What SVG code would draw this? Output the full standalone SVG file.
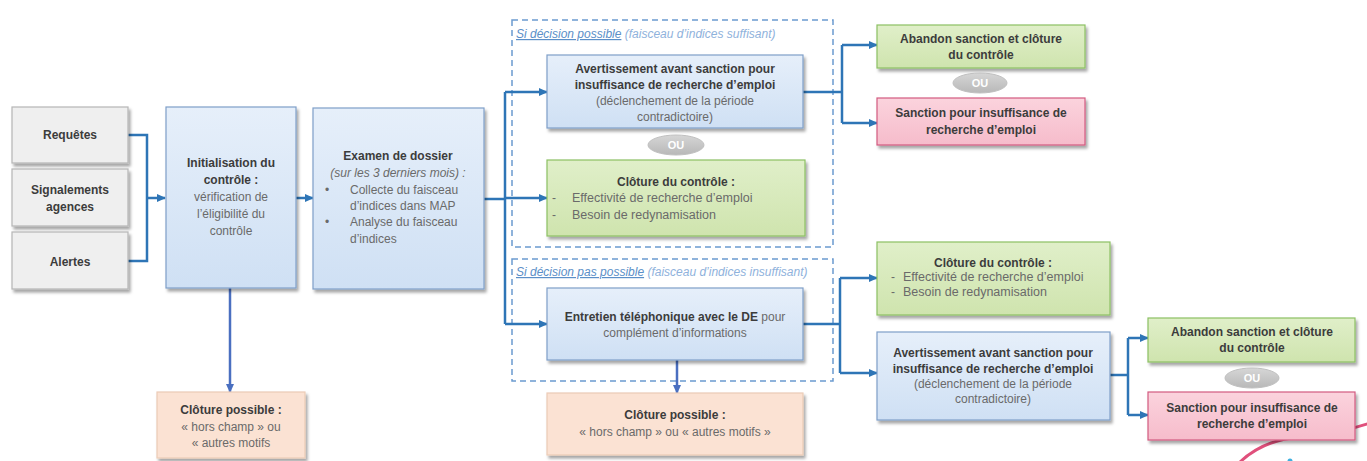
<svg xmlns="http://www.w3.org/2000/svg" width="1367" height="461" viewBox="0 0 1367 461">
<style>
text{font-family:"Liberation Sans",Arial,sans-serif;font-size:12px;fill:#6a6a6a}
.b{font-weight:bold;fill:#3c3c3c}
.c{text-anchor:middle}
.it{font-style:italic}
.w{font-size:12.5px}
.gray{fill:#efefef;stroke:#b5b5b5;stroke-width:1.2}
.blue{fill:url(#gb);stroke:#7f9fc8;stroke-width:1.2}
.green{fill:url(#gg);stroke:#8cc063;stroke-width:1.2}
.pink{fill:url(#gp);stroke:#d25a80;stroke-width:1.2}
.peach{fill:#fbe2d3;stroke:#eccbb6;stroke-width:1.2}
.conn{fill:none;stroke:#2e75b6;stroke-width:2.5}
.dash{fill:none;stroke:#6b9bcf;stroke-width:1.5;stroke-dasharray:6 4}
.ou{fill:url(#go);stroke:#c0c0c0}
.out{fill:#fff;font-weight:bold;font-size:11px;text-anchor:middle}
</style>
<defs>
<linearGradient id="gb" x1="0" y1="0" x2="0" y2="1"><stop offset="0" stop-color="#e6effa"/><stop offset="1" stop-color="#cfe0f4"/></linearGradient>
<linearGradient id="gg" x1="0" y1="0" x2="0" y2="1"><stop offset="0" stop-color="#e0efc9"/><stop offset="1" stop-color="#cfe4ae"/></linearGradient>
<linearGradient id="gp" x1="0" y1="0" x2="0" y2="1"><stop offset="0" stop-color="#fbd3dd"/><stop offset="1" stop-color="#f6bccb"/></linearGradient>
<linearGradient id="go" x1="0" y1="0" x2="0" y2="1"><stop offset="0" stop-color="#d6d6d6"/><stop offset="1" stop-color="#b8b8b8"/></linearGradient>
<filter id="sh" x="-10%" y="-10%" width="125%" height="130%"><feDropShadow dx="2" dy="3" stdDeviation="1.8" flood-color="#000" flood-opacity="0.35"/></filter>
<marker id="ar" markerWidth="10" markerHeight="10" refX="8" refY="5" orient="auto" markerUnits="userSpaceOnUse"><path d="M0,1 L9,5 L0,9 Z" fill="#2e75b6"/></marker>
<marker id="ar2" markerWidth="10" markerHeight="10" refX="8" refY="5" orient="auto" markerUnits="userSpaceOnUse"><path d="M0,1 L9,5 L0,9 Z" fill="#4a6fc0"/></marker>
</defs>
<rect width="1367" height="461" fill="#fff"/>

<!-- decorative annotation curve -->
<path d="M1238,464 Q1262,440 1300,437 T1370,423" fill="none" stroke="#e0507c" stroke-width="3"/>
<circle cx="1290" cy="461" r="2.5" fill="#3fb0e0"/>

<!-- dashed regions -->
<rect class="dash" x="512" y="20" width="321" height="227"/>
<rect class="dash" x="512" y="259" width="321" height="122"/>
<text x="516" y="38" class="it" style="font-size:12px;fill:#5b8fc8"><tspan text-decoration="underline">Si décision possible</tspan><tspan fill="#8fb2dc"> (faisceau d’indices suffisant)</tspan></text>
<text x="516" y="276" class="it" style="font-size:12px;fill:#5b8fc8"><tspan text-decoration="underline">Si décision pas possible</tspan><tspan fill="#8fb2dc"> (faisceau d’indices insuffisant)</tspan></text>

<!-- connectors -->
<g id="connectors">
<path class="conn" d="M128,135 H147 V261 H128"/>
<path class="conn" d="M147,198 H165" marker-end="url(#ar)"/>
<path class="conn" d="M296,198 H313" marker-end="url(#ar)"/>
<path class="conn" d="M484,199 H505"/>
<path class="conn" d="M505,92 V324"/>
<path class="conn" d="M505,92 H547" marker-end="url(#ar)"/>
<path class="conn" d="M505,198 H547" marker-end="url(#ar)"/>
<path class="conn" d="M505,324 H547" marker-end="url(#ar)"/>
<path class="conn" d="M230,288 V392" style="stroke:#4a6fc0" marker-end="url(#ar2)"/>
<path class="conn" d="M677,360 V393" style="stroke:#4a6fc0" marker-end="url(#ar2)"/>
<path class="conn" d="M803,92 H842"/>
<path class="conn" d="M842,45 V123"/>
<path class="conn" d="M842,45 H877" marker-end="url(#ar)"/>
<path class="conn" d="M842,123 H877" marker-end="url(#ar)"/>
<path class="conn" d="M803,324 H840"/>
<path class="conn" d="M840,278 V373"/>
<path class="conn" d="M840,278 H877" marker-end="url(#ar)"/>
<path class="conn" d="M840,373 H877" marker-end="url(#ar)"/>
<path class="conn" d="M1110,375 H1128"/>
<path class="conn" d="M1128,338 V415"/>
<path class="conn" d="M1128,338 H1148" marker-end="url(#ar)"/>
<path class="conn" d="M1128,415 H1148" marker-end="url(#ar)"/>
</g>

<g id="requetes"><rect class="gray" x="12" y="107" width="116" height="56" filter="url(#sh)"/><text class="b c" x="70" y="139">Requêtes</text></g>
<g id="signalements"><rect class="gray" x="12" y="169" width="116" height="57" filter="url(#sh)"/><text class="b c" x="70" y="194">Signalements</text><text class="b c" x="70" y="211">agences</text></g>
<g id="alertes"><rect class="gray" x="12" y="232" width="116" height="57" filter="url(#sh)"/><text class="b c" x="70" y="266">Alertes</text></g>

<g id="init"><rect class="blue" x="166" y="107" width="130" height="181" filter="url(#sh)"/>
<text class="b c" x="231" y="167">Initialisation du</text>
<text class="b c" x="231" y="184">contrôle :</text>
<text class="c" x="231" y="201">vérification de</text>
<text class="c" x="231" y="218">l’éligibilité du</text>
<text class="c" x="231" y="235">contrôle</text></g>

<g id="examen"><rect class="blue" x="313" y="108" width="171" height="181" filter="url(#sh)"/>
<text class="b c" x="398" y="160">Examen de dossier</text>
<text class="c it" x="398" y="177">(sur les 3 derniers mois) :</text>
<text x="325" y="194">•</text><text x="350" y="194">Collecte du faisceau</text>
<text x="350" y="210">d’indices dans MAP</text>
<text x="325" y="226">•</text><text x="350" y="226">Analyse du faisceau</text>
<text x="350" y="243">d’indices</text></g>

<g id="cloture-init"><rect class="peach" x="157" y="392" width="148" height="66" filter="url(#sh)"/>
<text class="b c" x="231" y="414">Clôture possible :</text>
<text class="c" x="231" y="431">« hors champ » ou</text>
<text class="c" x="231" y="447">« autres motifs</text></g>

<g id="avert1"><rect class="blue" x="547" y="55" width="256" height="73" filter="url(#sh)"/>
<text class="b c" x="675" y="73">Avertissement avant sanction pour</text>
<text class="b c" x="675" y="89">insuffisance de recherche d’emploi</text>
<text class="c" x="675" y="105">(déclenchement de la période</text>
<text class="c" x="675" y="121">contradictoire)</text></g>

<g id="ou1"><ellipse class="ou" cx="676" cy="145" rx="28" ry="10"/><text class="out" x="676" y="149">OU</text></g>

<g id="cloture1"><rect class="green" x="547" y="160" width="258" height="76" filter="url(#sh)"/>
<text class="b c" x="676" y="186">Clôture du contrôle :</text>
<text x="552" y="202">-</text><text class="w" x="572" y="202">Effectivité de recherche d’emploi</text>
<text x="552" y="219">-</text><text class="w" x="572" y="219">Besoin de redynamisation</text></g>

<g id="entretien"><rect class="blue" x="547" y="288" width="256" height="72" filter="url(#sh)"/>
<text class="c" x="675" y="321"><tspan class="b">Entretien téléphonique avec le DE</tspan> pour</text>
<text class="c" x="675" y="337">complément d’informations</text></g>

<g id="cloture-entretien"><rect class="peach" x="547" y="393" width="256" height="62" filter="url(#sh)"/>
<text class="b c" x="675" y="419">Clôture possible :</text>
<text class="c" x="675" y="436">« hors champ » ou « autres motifs »</text></g>

<g id="abandon1"><rect class="green" x="877" y="25" width="208" height="43" filter="url(#sh)"/>
<text class="b c" x="981" y="43">Abandon sanction et clôture</text>
<text class="b c" x="981" y="59">du contrôle</text></g>
<g id="ou2"><ellipse class="ou" cx="980" cy="83" rx="27" ry="10"/><text class="out" x="980" y="87">OU</text></g>
<g id="sanction1"><rect class="pink" x="877" y="98" width="208" height="47" filter="url(#sh)"/>
<text class="b c" x="981" y="117">Sanction pour insuffisance de</text>
<text class="b c" x="981" y="134">recherche d’emploi</text></g>

<g id="cloture2"><rect class="green" x="877" y="242" width="233" height="73" filter="url(#sh)"/>
<text class="b c" x="993" y="267">Clôture du contrôle :</text>
<text x="891" y="281">-</text><text class="w" x="903" y="281">Effectivité de recherche d’emploi</text>
<text x="891" y="296">-</text><text class="w" x="903" y="296">Besoin de redynamisation</text></g>

<g id="avert2"><rect class="blue" x="877" y="332" width="233" height="88" filter="url(#sh)"/>
<text class="b c" x="993" y="357">Avertissement avant sanction pour</text>
<text class="b c" x="993" y="373">insuffisance de recherche d’emploi</text>
<text class="c" x="993" y="388">(déclenchement de la période</text>
<text class="c" x="993" y="403">contradictoire)</text></g>

<g id="abandon2"><rect class="green" x="1148" y="318" width="207" height="44" filter="url(#sh)"/>
<text class="b c" x="1252" y="336">Abandon sanction et clôture</text>
<text class="b c" x="1252" y="352">du contrôle</text></g>
<g id="ou3"><ellipse class="ou" cx="1252" cy="378" rx="27" ry="10"/><text class="out" x="1252" y="382">OU</text></g>
<g id="sanction2"><rect class="pink" x="1148" y="392" width="207" height="48" filter="url(#sh)"/>
<text class="b c" x="1252" y="412">Sanction pour insuffisance de</text>
<text class="b c" x="1252" y="428">recherche d’emploi</text></g>
</svg>
